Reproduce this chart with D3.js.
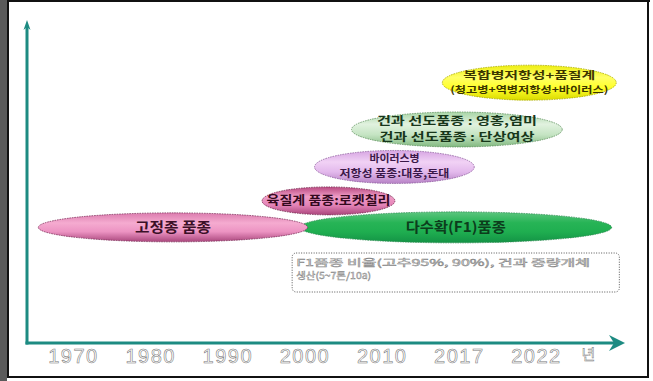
<!DOCTYPE html>
<html>
<head>
<meta charset="utf-8">
<script src="https://cdn.jsdelivr.net/npm/d3@7/dist/d3.min.js"></script>
<style>
  html, body { margin: 0; padding: 0; background: #fff; }
  svg { display: block; }
</style>
</head>
<body>
<svg id="chart" width="653" height="381"></svg>
<script>
// Timeline ticks
const yearLabels = ["1970", "1980", "1990", "2000", "2010", "2017", "2022"];
const unitLabel = "년";

// Breeding stages: span in years and vertical level (0-100)
const stageNames = ["fixed", "f1", "flesh", "virus", "dry", "complex"];
const stageStart = [1965.5, 1999.4, 1994.5, 2001.3, 2006.1, 2015.5];
const stageEnd = [2000.4, 2026.9, 2011.2, 2018.0, 2023.7, 2027.2];
const stageLevel = [35.8, 35.8, 44.0, 54.5, 66.1, 80.6];
const stageLines = [
  ["고정종 품종"],
  ["다수확(F1)품종"],
  ["육질계 품종:로켓칠리"],
  ["바이러스병", "저항성 품종:대풍,돈대"],
  ["건과 선도품종 : 영홍,염미", "건과 선도품종 : 단상여상"],
  ["복합병저항성+품질계", "(청고병+역병저항성+바이러스)"]
];
const noteLines = ["F1품종 비율(고추95%, 90%), 건과 중량개체", "생산(5~7톤/10a)"];
const noteStart = 1998.4, noteEnd = 2027.4;

// Look of each stage ellipse and its label (line sizes, line gap, line widths)
const stageStyle = {
  fixed:   { ry: 14.5, stops: ["#db7cae", "#f5abd0", "#ec93c2", "#a9467c"], edge: "#7a3058", text: "#3b1027",
             size: [14], gap: 0, width: [76] },
  f1:      { ry: 15.5, stops: ["#5cc57e", "#27b456", "#1fae50", "#139245"], edge: "#2d8a52", text: "#0c3d1c",
             size: [14], gap: 0, width: [100] },
  flesh:   { ry: 14,   stops: ["#b8487f", "#ef9cc6", "#e584b8", "#a9447a"], edge: "#6e2248", text: "#33091e",
             size: [12.5], gap: 0, width: [124] },
  virus:   { ry: 16.5, stops: ["#d6a4e2", "#f1d2f5", "#e3b9ec", "#b783c6"], edge: "#8a5a9a", text: "#3a1848",
             size: [10, 10], gap: 14.5, width: [50, 110], shift: -1.2 },
  dry:     { ry: 17.5, stops: ["#a8d4a6", "#e1f2df", "#c5e4c3", "#82b980"], edge: "#5f8f5e", text: "#17361a",
             size: [11, 11], gap: 16, width: [160, 155] },
  complex: { ry: 17.5, stops: ["#eded10", "#ffff66", "#ffff2a", "#dada00"], edge: "#a6a600", text: "#3b3500",
             size: [10, 9.5], gap: 14.3, width: [132, 158] }
};

const W = 653, H = 381;
const svg = d3.select("#chart");
const defs = svg.append("defs");

// Page frame
svg.append("rect").attr("x", 0).attr("y", 0).attr("width", W).attr("height", H).attr("fill", "#fff");
svg.append("rect").attr("x", 0).attr("y", 0).attr("width", 7).attr("height", H).attr("fill", "#5a5a5a");
svg.append("rect").attr("x", 7).attr("y", 0).attr("width", 2).attr("height", 378).attr("fill", "#111");
svg.append("rect").attr("x", 7).attr("y", 0).attr("width", 643).attr("height", 2).attr("fill", "#111");
svg.append("rect").attr("x", 647).attr("y", 0).attr("width", 2).attr("height", 378).attr("fill", "#111");
svg.append("rect").attr("x", 7).attr("y", 376).attr("width", 642).attr("height", 2).attr("fill", "#111");

// Scales
const axisX0 = 27, axisY0 = 343, axisTop = 20, axisRight = 625;
const tickScale = d3.scalePoint().domain(yearLabels).range([73, 536]);
const xScale = d3.scaleLinear()
  .domain(yearLabels.map(Number))
  .range(yearLabels.map(d => tickScale(d)));
const yScale = d3.scaleLinear().domain([0, 100]).range([axisY0, axisTop]);

const teal = "#1d8b82";

// Stage ellipses
const stages = stageNames.map((name, i) => ({
  name, start: stageStart[i], end: stageEnd[i], level: stageLevel[i], lines: stageLines[i]
}));

stages.forEach(s => {
  const st = stageStyle[s.name];
  const g = defs.append("linearGradient").attr("id", "grad-" + s.name)
    .attr("x1", 0).attr("y1", 0).attr("x2", 0).attr("y2", 1);
  [0, 0.35, 0.65, 1].forEach((o, k) =>
    g.append("stop").attr("offset", o).attr("stop-color", st.stops[k]));
});

// draw order: wide base stages first so the narrower ones sit on top
const drawOrder = ["f1", "fixed", "flesh", "virus", "dry", "complex"];
const layer = svg.append("g");
drawOrder.forEach(n => {
  const s = stages.find(d => d.name === n);
  const st = stageStyle[n];
  const x0 = xScale(s.start), x1 = xScale(s.end);
  layer.append("ellipse")
    .attr("cx", (x0 + x1) / 2).attr("cy", yScale(s.level))
    .attr("rx", (x1 - x0) / 2).attr("ry", st.ry)
    .attr("fill", `url(#grad-${n})`)
    .attr("stroke", st.edge).attr("stroke-width", 0.8)
    .attr("stroke-dasharray", "1.5,1");
});

// Stage labels (one text element per stage, one tspan per line)
const labelLayer = svg.append("g")
  .attr("font-family", "'Noto Sans CJK KR', 'Noto Sans', sans-serif")
  .attr("font-weight", 700)
  .attr("text-anchor", "middle");
stages.forEach(s => {
  const st = stageStyle[s.name];
  const cx = (xScale(s.start) + xScale(s.end)) / 2;
  const cy = yScale(s.level) + (st.shift || 0);
  const n = s.lines.length;
  const t = labelLayer.append("text").attr("fill", st.text);
  s.lines.forEach((line, k) => {
    t.append("tspan")
      .attr("x", cx)
      .attr("y", cy + (k - (n - 1) / 2) * st.gap)
      .attr("dy", "0.36em")
      .attr("font-size", st.size[k])
      .attr("textLength", st.width[k])
      .attr("lengthAdjust", "spacingAndGlyphs")
      .text(line);
  });
});

// Note box
const noteX = xScale(noteStart), noteW = xScale(noteEnd) - noteX;
const noteY = 253, noteH = 39;
const noteWidths = [294, 75];
svg.append("rect")
  .attr("x", noteX).attr("y", noteY).attr("width", noteW).attr("height", noteH)
  .attr("rx", 4).attr("fill", "#fff")
  .attr("stroke", "#555").attr("stroke-width", 1).attr("stroke-dasharray", "1,1.5");
const noteText = svg.append("text")
  .attr("font-family", "'Noto Sans CJK KR', sans-serif")
  .attr("font-size", 9.3)
  .attr("fill", "#f6f6f6").attr("stroke", "#858585").attr("stroke-width", 0.45);
noteLines.forEach((line, k) => {
  noteText.append("tspan")
    .attr("x", noteX + 4).attr("y", noteY + 9.5 + k * 13.6)
    .attr("dy", "0.36em")
    .attr("textLength", noteWidths[k])
    .attr("lengthAdjust", "spacingAndGlyphs")
    .text(line);
});

// Axes
const axes = svg.append("g");
axes.append("line")
  .attr("x1", axisX0).attr("y1", axisY0 + 1.5).attr("x2", axisX0).attr("y2", axisTop + 6)
  .attr("stroke", teal).attr("stroke-width", 3);
axes.append("line")
  .attr("x1", axisX0 - 1.5).attr("y1", axisY0).attr("x2", axisRight - 10).attr("y2", axisY0)
  .attr("stroke", teal).attr("stroke-width", 3);
// arrowheads
axes.append("path")
  .attr("d", `M${axisRight},${axisY0} L${axisRight - 16},${axisY0 - 8} L${axisRight - 11},${axisY0} L${axisRight - 16},${axisY0 + 8} Z`)
  .attr("fill", teal);
axes.append("path")
  .attr("d", `M${axisX0},${axisTop} L${axisX0 - 3.5},${axisTop + 10} L${axisX0},${axisTop + 7} L${axisX0 + 3.5},${axisTop + 10} Z`)
  .attr("fill", teal);

// Year tick labels
const tickAxis = d3.axisBottom(tickScale).tickSize(0).tickPadding(0);
const tickG = svg.append("g").attr("transform", `translate(0,${axisY0 + 6})`).call(tickAxis);
tickG.select(".domain").remove();
tickG.selectAll("text")
  .attr("dy", "0.71em")
  .attr("font-family", "'Liberation Sans', Arial, sans-serif")
  .attr("font-size", 20)
  .attr("letter-spacing", 1.5)
  .attr("fill", "#ffffff").attr("stroke", "#777").attr("stroke-width", 0.55);
svg.append("text")
  .attr("x", tickScale("2022") + (tickScale("2022") - tickScale("2017")) * 0.68)
  .attr("y", axisY0 + 6).attr("dy", "0.71em")
  .attr("text-anchor", "middle")
  .attr("font-family", "'Noto Sans CJK KR', sans-serif")
  .attr("font-size", 15)
  .attr("fill", "#ffffff").attr("stroke", "#777").attr("stroke-width", 0.5)
  .text(unitLabel);
</script>
</body>
</html>
